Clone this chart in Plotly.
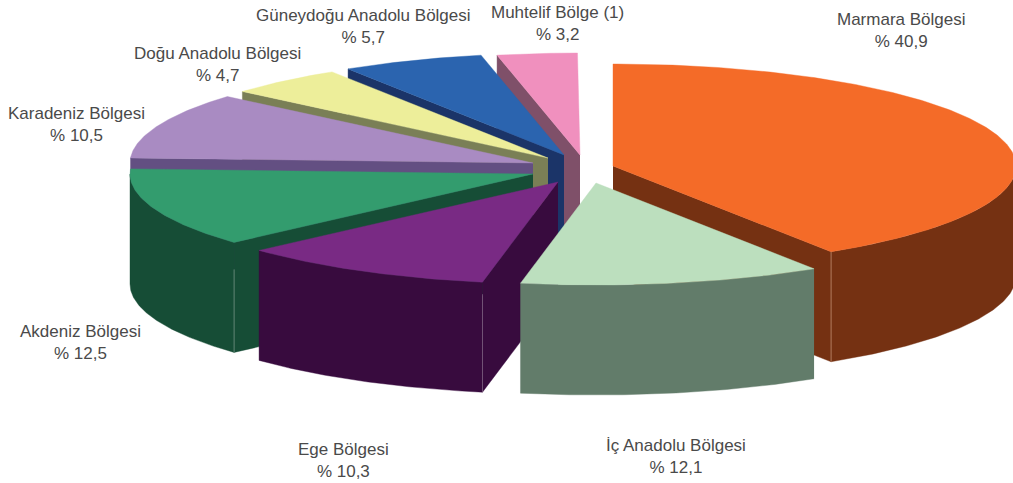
import numpy as np
import plotly.graph_objects as go

regions = ["Marmara Bölgesi", "İç Anadolu Bölgesi", "Ege Bölgesi", "Akdeniz Bölgesi",
           "Karadeniz Bölgesi", "Doğu Anadolu Bölgesi", "Güneydoğu Anadolu Bölgesi", "Muhtelif Bölge (1)"]
shares = [40.9, 12.1, 10.3, 12.5, 10.5, 4.7, 5.7, 3.2]

top_colors = ["#F46B28", "#BCDFBE", "#792A84", "#339C6E", "#A98BC2", "#EDEE9A", "#2B64AF", "#F090BE"]
side_colors = ["#753112", "#627C6A", "#380B3E", "#164D36", "#634F82", "#7A7F56", "#1B3468", "#7F5069"]
seam_colors = {0: "#C08D70", 2: "#7A5C7E", 3: "#6F8F80"}
seam_skip = {0: 0, 2: 12, 3: 27}
apex_x = [613, 596, 558, 533, 533, 548, 564, 580]
apex_y = [166, 183, 182, 174, 163, 158, 155, 155]
label_x = [901, 676, 343, 80, 76, 217, 363, 557]
label_y = [30, 456, 460, 342, 124, 64, 26, 23]
draw_order = [7, 6, 5, 4, 0, 3, 2, 1]
RX, RY, DEPTH = 403, 102, 110

edges = np.concatenate([[0], np.cumsum(shares)]) * 3.6


def rim(i, a0, a1):
    t = np.radians(np.linspace(a0, a1, max(2, int(abs(a1 - a0) * 2) + 2)))
    return apex_x[i] + RX * np.sin(t), apex_y[i] - RY * np.cos(t)


def patch(fig, xs, ys, color):
    fig.add_trace(go.Scatter(x=np.round(xs, 2), y=np.round(ys, 2), mode="lines", fill="toself",
                             fillcolor=color, line=dict(color=color, width=0.4),
                             hoverinfo="skip", showlegend=False))


fig = go.Figure()
for i in draw_order:
    a0, a1 = edges[i], edges[i + 1]
    # cut face: the one turned towards the viewer
    cut_angle = a1 if i == 0 else a0
    ex, ey = rim(i, cut_angle, cut_angle)
    ex, ey = ex[0], ey[0]
    if i != 1:
        patch(fig, [apex_x[i], ex, ex, apex_x[i]],
              [apex_y[i], ey, ey + DEPTH, apex_y[i] + DEPTH], side_colors[i])
    # outer wall: only the front half of the ellipse
    lo, hi = max(a0, 90), min(a1, 270)
    if lo < hi:
        wx, wy = rim(i, lo, hi)
        patch(fig, np.concatenate([wx, wx[::-1]]), np.concatenate([wy, wy[::-1] + DEPTH]), side_colors[i])
    # pale seam where the cut face meets the outer wall
    if i in seam_colors:
        fig.add_trace(go.Scatter(x=[ex, ex], y=[ey + seam_skip[i], ey + DEPTH], mode="lines",
                                 line=dict(color=seam_colors[i], width=0.8),
                                 hoverinfo="skip", showlegend=False))
    # top face
    tx, ty = rim(i, a0, a1)
    patch(fig, np.concatenate([[apex_x[i]], tx, [apex_x[i]]]),
          np.concatenate([[apex_y[i]], ty, [apex_y[i]]]), top_colors[i])

for name, share, lx, ly in zip(regions, shares, label_x, label_y):
    fig.add_annotation(x=lx, y=ly, xref="x", yref="y", showarrow=False, align="center",
                       text=f"{name}<br>% {str(share).replace('.', ',')}",
                       font=dict(family="Liberation Sans", size=17, color="#4A4A4A"))

fig.update_layout(width=1013, height=483, margin=dict(l=0, r=0, t=0, b=0), autosize=False,
                  paper_bgcolor="white", plot_bgcolor="white",
                  xaxis=dict(range=[0, 1013], visible=False, fixedrange=True),
                  yaxis=dict(range=[483, 0], visible=False, fixedrange=True))
fig.write_html("out.html", config={"displayModeBar": False},
               post_script="document.body.style.margin='0';document.body.style.overflow='hidden';")
